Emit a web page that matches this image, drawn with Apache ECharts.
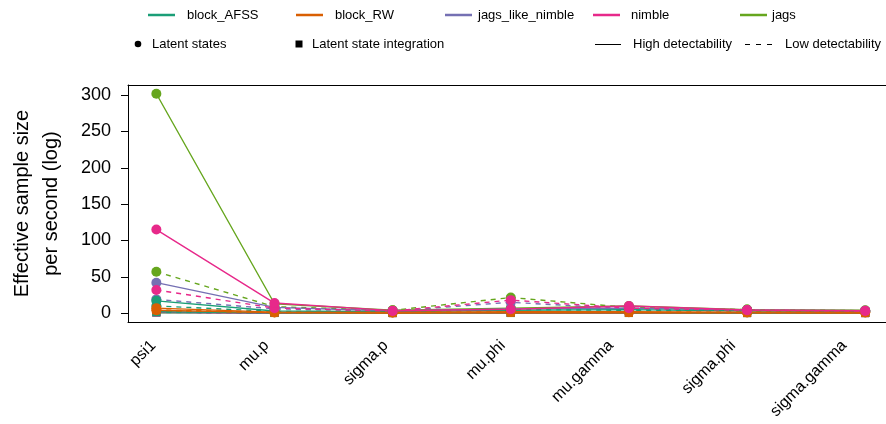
<!DOCTYPE html>
<html>
<head>
<meta charset="utf-8">
<script src="https://cdn.jsdelivr.net/npm/echarts@6/dist/echarts.min.js"></script>
<style>html,body{margin:0;padding:0;background:#fff}#c{width:886px;height:424px}</style>
</head>
<body>
<div id="c"></div>
<script>
// ---- categories / tick labels ----
const categories = ['psi1', 'mu.p', 'sigma.p', 'mu.phi', 'mu.gamma', 'sigma.phi', 'sigma.gamma'];
const yTicks = [0, 50, 100, 150, 200, 250, 300];
const algorithms = ['block_AFSS', 'block_RW', 'jags_like_nimble', 'nimble', 'jags'];

// ---- Latent states (circles), high detectability ----
const ls_high_block_AFSS       = [17, 3, 2, 4, 5, 3, 2.5];
const ls_high_block_RW         = [7, 1.5, 1, 2, 2, 1.5, 1.5];
const ls_high_jags_like_nimble = [42, 8, 3, 6, 7, 4, 3.5];
const ls_high_nimble           = [115, 14, 3.5, 5.5, 10, 4.5, 3.5];
const ls_high_jags             = [301.7, 13, 4, 7, 10, 5, 4];
// ---- Latent states (circles), low detectability ----
const ls_low_block_AFSS        = [10, 2.5, 2, 5, 4, 3, 2.5];
const ls_low_block_RW          = [4, 1, 1, 2, 1.5, 1, 1];
const ls_low_jags_like_nimble  = [19, 6, 3, 15, 6, 4, 3];
const ls_low_nimble            = [32, 7, 3, 18, 7, 4, 3];
const ls_low_jags              = [57, 9, 4, 21.5, 8, 5, 3.5];
// ---- Latent state integration (squares), high detectability ----
const lsi_high_block_AFSS       = [2, 0.5, 0.3, 0.5, 0.5, 0.3, 0.3];
const lsi_high_block_RW         = [4, 0.8, 0.4, 0.8, 0.7, 0.5, 0.4];
const lsi_high_jags_like_nimble = [1, 0.3, 0.2, 0.3, 0.3, 0.2, 0.2];
const lsi_high_nimble           = [1.5, 0.4, 0.2, 0.4, 0.4, 0.3, 0.2];
const lsi_high_jags             = [0.5, 0.2, 0.1, 0.2, 0.2, 0.1, 0.1];
// ---- Latent state integration (squares), low detectability ----
const lsi_low_block_AFSS        = [1.5, 0.4, 0.3, 0.5, 0.4, 0.3, 0.3];
const lsi_low_block_RW          = [4.5, 1, 0.5, 1, 0.8, 0.5, 0.5];
const lsi_low_jags_like_nimble  = [1, 0.3, 0.2, 0.3, 0.3, 0.2, 0.2];
const lsi_low_nimble            = [1.5, 0.4, 0.2, 0.4, 0.4, 0.3, 0.2];
const lsi_low_jags              = [2.5, 0.5, 0.3, 0.5, 0.5, 0.3, 0.3];

const colors = {block_AFSS: '#1B9E77', block_RW: '#D95F02', jags_like_nimble: '#7570B3', nimble: '#E7298A', jags: '#66A61E'};
const FONT = 'Liberation Sans, Arial, Helvetica, sans-serif';
// horizontal nudge (px) of each rotated category label, as in the original rendering
const labelNudgePx = [-3, -8, -7, -8, -18, -14, -21];

const table = {
  ls_high: {block_AFSS: ls_high_block_AFSS, block_RW: ls_high_block_RW, jags_like_nimble: ls_high_jags_like_nimble, nimble: ls_high_nimble, jags: ls_high_jags},
  ls_low: {block_AFSS: ls_low_block_AFSS, block_RW: ls_low_block_RW, jags_like_nimble: ls_low_jags_like_nimble, nimble: ls_low_nimble, jags: ls_low_jags},
  lsi_high: {block_AFSS: lsi_high_block_AFSS, block_RW: lsi_high_block_RW, jags_like_nimble: lsi_high_jags_like_nimble, nimble: lsi_high_nimble, jags: lsi_high_jags},
  lsi_low: {block_AFSS: lsi_low_block_AFSS, block_RW: lsi_low_block_RW, jags_like_nimble: lsi_low_jags_like_nimble, nimble: lsi_low_nimble, jags: lsi_low_jags}
};

function mk(model, det, alg) {
  const vals = table[model + '_' + det][alg];
  const isLS = model === 'ls';
  return {
    type: 'line',
    name: alg + ' ' + model + ' ' + det,
    data: vals.map((v, i) => [i + 1, v]),
    symbol: isLS ? 'circle' : 'rect',
    symbolSize: isLS ? 10 : 8,
    showSymbol: true,
    lineStyle: {color: colors[alg], width: 1.4, type: det === 'high' ? 'solid' : [5, 5]},
    itemStyle: {color: colors[alg]},
    emphasis: {disabled: true},
    silent: true,
    animation: false
  };
}

const series = [];
const lsiOrder = ['jags', 'jags_like_nimble', 'nimble', 'block_AFSS', 'block_RW'];
const lsOrder = ['jags', 'jags_like_nimble', 'block_AFSS', 'block_RW', 'nimble'];
lsiOrder.forEach(a => { series.push(mk('lsi', 'low', a)); series.push(mk('lsi', 'high', a)); });
lsOrder.forEach(a => { series.push(mk('ls', 'low', a)); series.push(mk('ls', 'high', a)); });

// ---- legend (drawn as graphics) ----
const graphic = [];
const row1Y = 15, row2Y = 44;
const leg1 = [[148, 187], [296, 335], [445, 478], [593, 631], [740, 772]];
algorithms.forEach((a, i) => {
  graphic.push({type: 'line', shape: {x1: leg1[i][0], y1: row1Y, x2: leg1[i][0] + 27, y2: row1Y}, style: {stroke: colors[a], lineWidth: 2.5}});
  graphic.push({type: 'text', x: leg1[i][1], y: row1Y, style: {text: a, fill: '#000', font: '13px ' + FONT, textVerticalAlign: 'middle'}});
});
graphic.push({type: 'circle', shape: {cx: 138, cy: row2Y, r: 3.3}, style: {fill: '#000'}});
graphic.push({type: 'text', x: 152, y: row2Y, style: {text: 'Latent states', fill: '#000', font: '13px ' + FONT, textVerticalAlign: 'middle'}});
graphic.push({type: 'rect', shape: {x: 295.5, y: row2Y - 3.5, width: 7, height: 7}, style: {fill: '#000'}});
graphic.push({type: 'text', x: 312, y: row2Y, style: {text: 'Latent state integration', fill: '#000', font: '13px ' + FONT, textVerticalAlign: 'middle'}});
graphic.push({type: 'line', shape: {x1: 595, y1: row2Y + 0.5, x2: 621, y2: row2Y + 0.5}, style: {stroke: '#000', lineWidth: 1}});
graphic.push({type: 'text', x: 633, y: row2Y, style: {text: 'High detectability', fill: '#000', font: '13px ' + FONT, textVerticalAlign: 'middle'}});
graphic.push({type: 'line', shape: {x1: 745, y1: row2Y + 0.5, x2: 772, y2: row2Y + 0.5}, style: {stroke: '#000', lineWidth: 1, lineDash: [5, 6]}});
graphic.push({type: 'text', x: 785, y: row2Y, style: {text: 'Low detectability', fill: '#000', font: '13px ' + FONT, textVerticalAlign: 'middle'}});

const X_MIN = 0.76, X_MAX = 7.176;
const PX_PER_UNIT = (886 - 127) / (X_MAX - X_MIN);
const labelPos = categories.map((c, i) => i + 1 + labelNudgePx[i] / PX_PER_UNIT);

const chart = echarts.init(document.getElementById('c'), null, {renderer: 'canvas'});
chart.setOption({
  animation: false,
  backgroundColor: '#fff',
  textStyle: {fontFamily: FONT},
  grid: {left: 127, top: 85, right: 0, bottom: 102, show: false},
  xAxis: [{
    type: 'value', min: X_MIN, max: X_MAX, position: 'bottom',
    axisLine: {show: true, onZero: false, lineStyle: {color: '#000', width: 1}},
    axisTick: {show: false}, splitLine: {show: false},
    axisLabel: {
      customValues: labelPos,
      formatter: v => categories[Math.round(v) - 1],
      rotate: 45, margin: 21, color: '#000', fontSize: 16, fontFamily: FONT
    }
  }, {
    type: 'value', min: X_MIN, max: X_MAX, position: 'top',
    axisLine: {show: true, onZero: false, lineStyle: {color: '#000', width: 1}},
    axisTick: {show: false}, axisLabel: {show: false}, splitLine: {show: false}
  }],
  yAxis: {
    type: 'value', min: -12.07, max: 313.77,
    axisLine: {show: true, onZero: false, lineStyle: {color: '#000', width: 1}},
    splitLine: {show: false},
    axisTick: {show: true, length: 7, customValues: yTicks, lineStyle: {color: '#000', width: 1}},
    axisLabel: {customValues: yTicks, margin: 17, color: '#000', fontSize: 18, fontFamily: FONT},
    name: 'Effective sample size\nper second (log)',
    nameLocation: 'middle', nameRotate: 90, nameGap: 62,
    nameTextStyle: {fontSize: 20, lineHeight: 29, color: '#000', fontFamily: FONT}
  },
  series: series,
  graphic: graphic
});
</script>
</body>
</html>
